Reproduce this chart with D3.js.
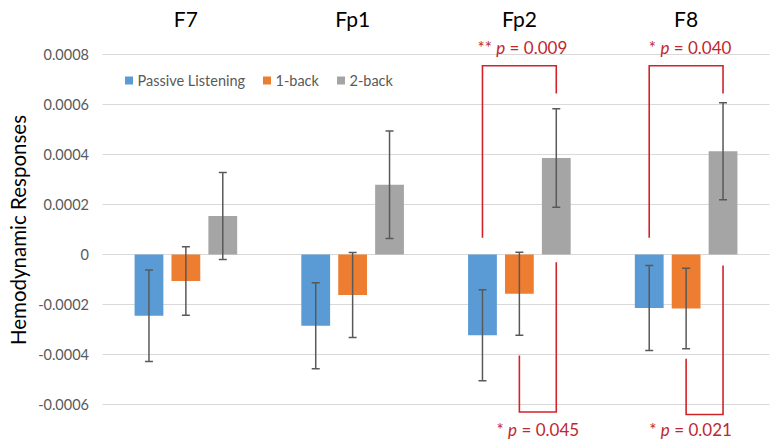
<!DOCTYPE html>
<html>
<head>
<meta charset="utf-8">
<script src="https://cdn.jsdelivr.net/npm/d3@7/dist/d3.min.js"></script>
<style>
  html, body { margin: 0; padding: 0; background: #fff; }
  svg { display: block; font-family: Lato, "Open Sans", sans-serif; }
</style>
</head>
<body>
<svg id="chart" width="773" height="444"></svg>
<script>
// ---- data ----
const channels = ["F7", "Fp1", "Fp2", "F8"];
const seriesNames = ["Passive Listening", "1-back", "2-back"];
const passiveValues = [-0.000245, -0.000285, -0.000323, -0.000214];
const passiveErrors = [0.000183, 0.000172, 0.000182, 0.000170];
const oneBackValues = [-0.000106, -0.000162, -0.000157, -0.000216];
const oneBackErrors = [0.000137, 0.000170, 0.000166, 0.000161];
const twoBackValues = [0.000154, 0.000279, 0.000386, 0.000413];
const twoBackErrors = [0.000174, 0.000215, 0.000197, 0.000194];
const yTicks = [-0.0006, -0.0004, -0.0002, 0, 0.0002, 0.0004, 0.0006, 0.0008];
const yTickLabels = ["-0.0006", "-0.0004", "-0.0002", "0", "0.0002", "0.0004", "0.0006", "0.0008"];
// significance brackets: channel, from series, to series, bar level, leg ends, label parts
const bracketChannels = ["Fp2", "F8", "Fp2", "F8"];
const bracketFrom = ["Passive Listening", "Passive Listening", "1-back", "1-back"];
const bracketTo = ["2-back", "2-back", "2-back", "2-back"];
const bracketLevel = [0.000755, 0.000755, -0.000630, -0.000640];
const bracketFromEnd = [0.000067, 0.000067, -0.000404, -0.000417];
const bracketToEnd = [0.000644, 0.000644, -0.000031, -0.000044];
const bracketStars = ["**", "*", "*", "*"];
const bracketP = ["0.009", "0.040", "0.045", "0.021"];

// ---- layout ----
const colors = ["#5b9bd5", "#ed7d31", "#a5a5a5"];
const red = "#d2232a";
const redText = "#c0282d";
const plotLeft = 102.5, plotRight = 769.5;
const labelDx = [3, 4, 0, -14];

const svg = d3.select("#chart");
const y = d3.scaleLinear().domain([-0.0006, 0.0008]).range([404.5, 54.5]);
const x0 = d3.scaleBand().domain(channels).range([plotLeft, plotRight]).padding(0);
const x1 = d3.scaleBand().domain(seriesNames).range([-51.3, 51.3]).paddingInner(0.22);
const cx = (ch, s) => x0(ch) + x0.bandwidth() / 2 + x1(s) + x1.bandwidth() / 2;

// gridlines
svg.append("g").selectAll("line").data(yTicks).join("line")
  .attr("x1", plotLeft).attr("x2", plotRight)
  .attr("y1", d => y(d)).attr("y2", d => y(d))
  .attr("stroke", "#d9d9d9").attr("stroke-width", 1.2);

// y axis labels
const yAxis = d3.axisLeft(y).tickValues(yTicks).tickFormat((d, i) => yTickLabels[i]).tickSize(0).tickPadding(0);
const gy = svg.append("g").attr("transform", "translate(89,0)").call(yAxis);
gy.select(".domain").remove();
gy.selectAll("text").attr("font-size", 14.5).attr("fill", "#595959").attr("font-family", "Lato, sans-serif");

// axis title
svg.append("text")
  .attr("transform", "translate(26,230) rotate(-90)")
  .attr("text-anchor", "middle")
  .attr("font-size", 20.5).attr("fill", "#000")
  .text("Hemodynamic Responses");

// channel titles
svg.append("g").selectAll("text").data(channels).join("text")
  .attr("x", d => x0(d) + x0.bandwidth() / 2)
  .attr("y", 27)
  .attr("text-anchor", "middle")
  .attr("font-size", 21).attr("fill", "#000")
  .text(d => d);

// bars + error bars
const series = [
  { name: seriesNames[0], values: passiveValues, errors: passiveErrors, color: colors[0] },
  { name: seriesNames[1], values: oneBackValues, errors: oneBackErrors, color: colors[1] },
  { name: seriesNames[2], values: twoBackValues, errors: twoBackErrors, color: colors[2] }
];
const rows = [];
series.forEach(s => channels.forEach((ch, i) => rows.push({ ch, s: s.name, v: s.values[i], e: s.errors[i], color: s.color })));

svg.append("g").selectAll("rect").data(rows).join("rect")
  .attr("x", d => x0(d.ch) + x0.bandwidth() / 2 + x1(d.s))
  .attr("width", x1.bandwidth())
  .attr("y", d => Math.min(y(d.v), y(0)))
  .attr("height", d => Math.abs(y(d.v) - y(0)))
  .attr("fill", d => d.color);

const eg = svg.append("g").attr("stroke", "#595959").attr("stroke-width", 1.5);
eg.selectAll("line.v").data(rows).join("line").attr("class", "v")
  .attr("x1", d => cx(d.ch, d.s)).attr("x2", d => cx(d.ch, d.s))
  .attr("y1", d => y(d.v + d.e)).attr("y2", d => y(d.v - d.e));
eg.selectAll("line.t").data(rows).join("line").attr("class", "t")
  .attr("x1", d => cx(d.ch, d.s) - 4).attr("x2", d => cx(d.ch, d.s) + 4)
  .attr("y1", d => y(d.v + d.e)).attr("y2", d => y(d.v + d.e));
eg.selectAll("line.b").data(rows).join("line").attr("class", "b")
  .attr("x1", d => cx(d.ch, d.s) - 4).attr("x2", d => cx(d.ch, d.s) + 4)
  .attr("y1", d => y(d.v - d.e)).attr("y2", d => y(d.v - d.e));

// legend
const legendX = [125, 263, 337];
const lg = svg.append("g").selectAll("g").data(seriesNames).join("g")
  .attr("transform", (d, i) => `translate(${legendX[i]},80.5)`);
lg.append("rect").attr("x", 0).attr("y", -4).attr("width", 8).attr("height", 8)
  .attr("fill", (d, i) => colors[i]);
lg.append("text").attr("x", 12.5).attr("y", 5).attr("font-size", 14.5)
  .attr("fill", "#595959").text(d => d);

// significance brackets
const brackets = bracketChannels.map((ch, i) => ({
  ch, from: bracketFrom[i], to: bracketTo[i], level: bracketLevel[i],
  fromEnd: bracketFromEnd[i], toEnd: bracketToEnd[i],
  stars: bracketStars[i], p: bracketP[i], dx: labelDx[i]
}));
svg.append("g").selectAll("path").data(brackets).join("path")
  .attr("fill", "none").attr("stroke", red).attr("stroke-width", 1.6)
  .attr("d", d => {
    const xa = cx(d.ch, d.from), xb = cx(d.ch, d.to);
    return `M${xa},${y(d.fromEnd)}V${y(d.level)}H${xb}V${y(d.toEnd)}`;
  });
const lt = svg.append("g").selectAll("text").data(brackets).join("text")
  .attr("x", d => (cx(d.ch, d.from) + cx(d.ch, d.to)) / 2 + d.dx)
  .attr("y", d => d.level > 0 ? 54 : 436)
  .attr("text-anchor", "middle")
  .attr("font-size", 17).attr("fill", redText);
lt.append("tspan").text(d => d.stars + " ");
lt.append("tspan").attr("font-style", "italic").text("p");
lt.append("tspan").text(d => " = " + d.p);
</script>
</body>
</html>
